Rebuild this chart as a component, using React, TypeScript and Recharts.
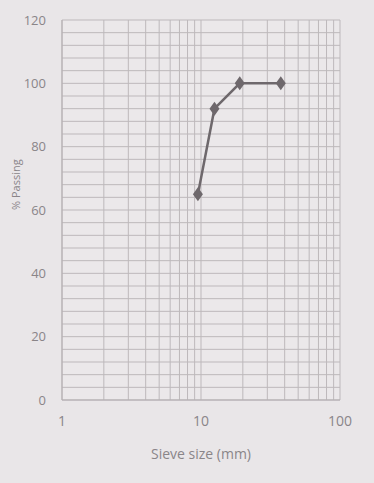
import { LineChart, Line, XAxis, YAxis, CartesianGrid, Label } from 'recharts';

const sieveSizes = [9.5, 12.5, 19, 37.5];
const passing = [65, 92, 100, 100];

const xTicks = [1, 2, 3, 4, 5, 6, 7, 8, 9, 10, 20, 30, 40, 50, 60, 70, 80, 90, 100];
const xLabels = [1, 10, 100];
const yTicks = [0, 4, 8, 12, 16, 20, 24, 28, 32, 36, 40, 44, 48, 52, 56, 60, 64, 68, 72, 76, 80, 84, 88, 92, 96, 100, 104, 108, 112, 116, 120];
const yLabels = [0, 20, 40, 60, 80, 100, 120];

const data = sieveSizes.map((size, i) => ({ size, pass: passing[i] }));

const Diamond = (props: any) => {
  const { cx, cy, index } = props;
  if (cx == null || cy == null) return null;
  return (
    <polygon
      key={`d-${index}`}
      points={`${cx},${cy - 7} ${cx + 5},${cy} ${cx},${cy + 7} ${cx - 5},${cy}`}
      fill="#6e686c"
    />
  );
};

export default function App() {
  return (
    <div style={{ position: 'absolute', left: 0, top: 0, width: 374, height: 483, background: '#e9e6e8' }}>
      <LineChart
        width={374}
        height={483}
        data={data}
        margin={{ top: 20, right: 34, left: 6, bottom: 18 }}
      >
        <CartesianGrid stroke="#bdb8bb" strokeWidth={1} fill="#ebe8ea" />
        <XAxis
          dataKey="size"
          type="number"
          scale="log"
          domain={[1, 100]}
          ticks={xTicks}
          interval={0}
          allowDataOverflow
          tickLine={false}
          axisLine={{ stroke: '#b3aeb1' }}
          tickFormatter={(v: number) => (xLabels.includes(v) ? String(v) : '')}
          tick={{ fill: '#8a8588', fontSize: 14, fontFamily: 'Open Sans' }}
          tickMargin={10}
          height={65}
        >
          <Label value="Sieve size (mm)" position="insideBottom" offset={6} fill="#8a8588" fontSize={14} fontFamily="Open Sans" />
        </XAxis>
        <YAxis
          type="number"
          domain={[0, 120]}
          ticks={yTicks}
          interval={0}
          tickLine={false}
          axisLine={{ stroke: '#b3aeb1' }}
          tickFormatter={(v: number) => (yLabels.includes(v) ? String(v) : '')}
          tick={{ fill: '#8a8588', fontSize: 13, fontFamily: 'Open Sans' }}
          tickMargin={10}
          width={56}
        >
          <Label value="% Passing" angle={-90} position="insideLeft" offset={10} fill="#8a8588" fontSize={11} fontFamily="Open Sans" />
        </YAxis>
        <Line
          dataKey="pass"
          stroke="#6e686c"
          strokeWidth={2.5}
          dot={<Diamond />}
          isAnimationActive={false}
        />
      </LineChart>
    </div>
  );
}
